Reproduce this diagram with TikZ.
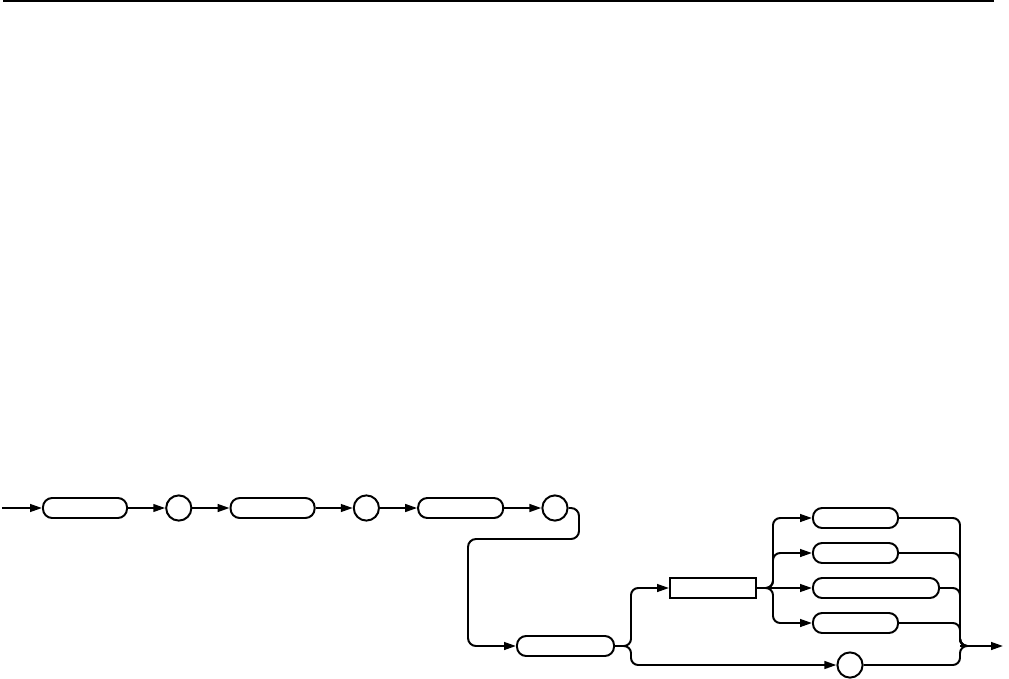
\documentclass[tikz,border=0pt]{standalone}
\usepackage{tikz}
\usetikzlibrary{arrows.meta,positioning}
\tikzset{
  sdterm/.style={draw, rounded corners=0.23cm, minimum width=2.1cm,
    minimum height=0.5cm, inner sep=0pt},
  sdbox/.style={draw, minimum width=2.15cm, minimum height=0.5cm, inner sep=0pt},
  sdsym/.style={draw, circle, minimum size=0.63cm, inner sep=0pt},
  sdarrow/.style={-{Triangle[length=8.5pt,width=5.5pt]}},
  sdline/.style={rounded corners=0.18cm}
}
\begin{document}
\begin{tikzpicture}[x=0.025cm, y=-0.025cm, line width=1.4pt, node distance=0.93cm]
  \useasboundingbox (0,0) rectangle (1009,679);
  \draw (3,1) -- (994,1);
  % first row
  \coordinate (start) at (2,508);
  \node[sdterm] (b1) at (85,508) {};
  \node[sdsym, right=of b1] (c1) {};
  \node[sdterm, right=of c1] (b2) {};
  \node[sdsym, right=of b2] (c2) {};
  \node[sdterm, right=of c2, minimum width=2.125cm] (b3) {};
  \node[sdsym, right=of b3] (c3) {};
  \draw[sdarrow] (start) -- (b1);
  \draw[sdarrow] (b1) -- (c1);
  \draw[sdarrow] (c1) -- (b2);
  \draw[sdarrow] (b2) -- (c2);
  \draw[sdarrow] (c2) -- (b3);
  \draw[sdarrow] (b3) -- (c3);
  % second part
  \node[sdterm, minimum width=2.425cm] (b4) at (565.5,646) {};
  \node[sdbox] (r) at (713,588) {};
  \node[sdterm, minimum width=2.125cm] (o1) at (855.5,518) {};
  \node[sdterm, minimum width=2.125cm] (o2) at (855.5,553) {};
  \node[sdterm, minimum width=3.15cm] (o3) at (876,588) {};
  \node[sdterm, minimum width=2.125cm] (o4) at (855.5,623) {};
  \node[sdsym] (c5) at (850,665) {};
  \coordinate (merge) at (960,646);
  \coordinate (out) at (1003,646);
  \draw[sdarrow, rounded corners=0.2cm] (c3.east) -- (579,508) -- (579,539)
    -- (468,539) -- (468,646) -- (b4.west);
  \draw[sdarrow, sdline] (b4.east) -- ++(16,0) |- (r.west);
  \draw[sdarrow, sdline] (b4.east) -- ++(16,0) |- (c5.west);
  \draw[sdarrow, sdline] (r.east) -- ++(16,0) |- (o1.west);
  \draw[sdarrow, sdline] (r.east) -- ++(16,0) |- (o2.west);
  \draw[sdarrow] (r.east) -- (o3.west);
  \draw[sdarrow, sdline] (r.east) -- ++(16,0) |- (o4.west);
  \foreach \n in {o1,o2,o3,o4,c5}
    \draw[sdline] (\n.east) -| (merge) -- ++(8,0);
  \draw[sdarrow] (merge) -- (out);
\end{tikzpicture}
\end{document}
